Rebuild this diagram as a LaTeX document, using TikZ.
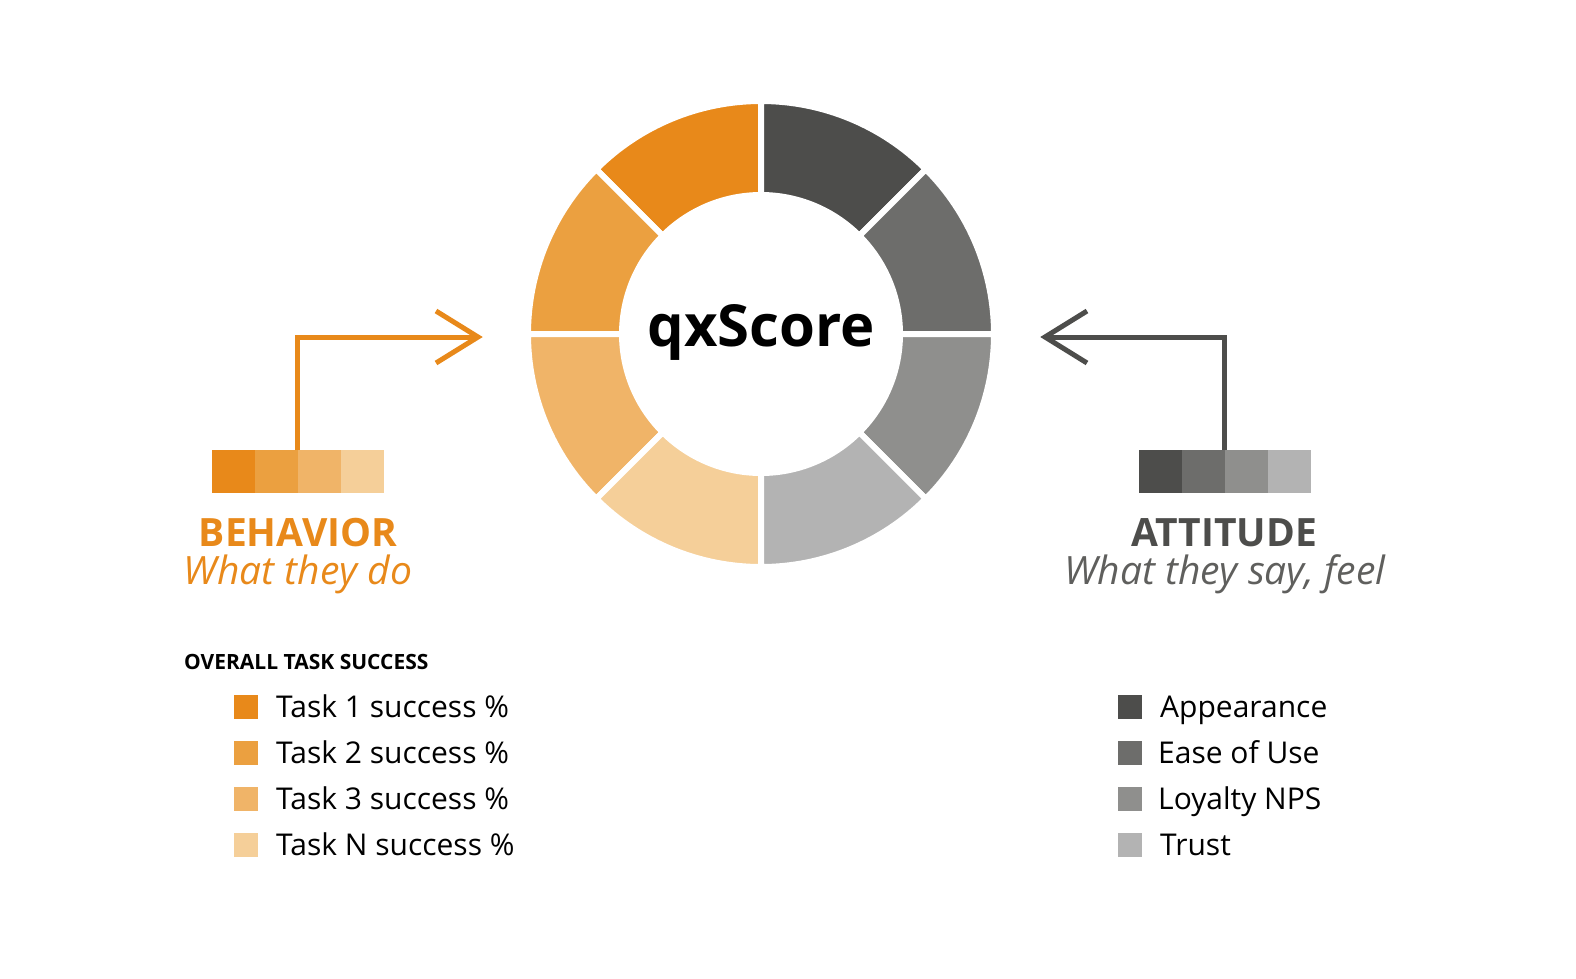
\documentclass[tikz,border=0pt]{standalone}
\usepackage{fontspec}
\setmainfont{Open Sans}
\definecolor{o1}{HTML}{E8891A}\definecolor{o2}{HTML}{EBA040}\definecolor{o3}{HTML}{F0B468}\definecolor{o4}{HTML}{F5CF99}
\definecolor{g1}{HTML}{4D4D4B}\definecolor{g2}{HTML}{6D6D6B}\definecolor{g3}{HTML}{8F8F8D}\definecolor{g4}{HTML}{B3B3B3}
\begin{document}
\begin{tikzpicture}[x=1pt,y=-1pt,
  seg/.style={draw=white,line width=6pt},
  cell/.style={minimum width=43pt,minimum height=43pt,inner sep=0,outer sep=0},
  lsq/.style={minimum size=24pt,inner sep=0},
  ltxt/.style={anchor=base west,font=\fontsize{30}{32}\selectfont,text=black,inner sep=0},
  arr/.style={line width=5pt}]
\useasboundingbox (0,0) rectangle (1576,978);
\coordinate (c) at (761,334);
\foreach \a/\col in {-135/o1,-180/o2,-225/o3,-270/o4,-90/g1,-45/g2,0/g3,45/g4}{
  \fill[\col,seg] (c) ++(\a:233) arc[start angle=\a,end angle=\a+45,radius=233] -- ++(\a+45+180:94) arc[start angle=\a+45,end angle=\a,radius=139] -- cycle;
}
\fill[white] (c) circle (136);
\node[font=\fontsize{58}{60}\selectfont\bfseries] (q) at (761,332) {qxScore};
% bars
\foreach \i/\col in {0/o1,1/o2,2/o3,3/o4}{\node[cell,fill=\col] (b\i) at (233.5+43*\i,471.5) {};}
\foreach \i/\col in {0/g1,1/g2,2/g3,3/g4}{\node[cell,fill=\col] (r\i) at (1160.5+43*\i,471.5) {};}
\coordinate (oa) at (297,337);\coordinate (ot) at (478,337);
\draw[arr,o1] (297,450) -- (oa) -- (ot);
\draw[arr,o1] (436,311) -- (ot) -- (436,363);
\coordinate (ga) at (1224,337);\coordinate (gt) at (1045,337);
\draw[arr,g1] (1224,450) -- (ga) -- (gt);
\draw[arr,g1] (1087,311) -- (gt) -- (1087,363);
\node[font=\fontsize{39}{40}\selectfont\bfseries,text=o1] (beh) at (298,533) {BEHAVIOR};
\node[font=\fontsize{39}{40}\selectfont\itshape,text=o1] (bw) at (298,574) {What they do};
\node[font=\fontsize{39}{40}\selectfont\bfseries,text=g1] (att) at (1224,533) {ATTITUDE};
\node[font=\fontsize{39}{40}\selectfont\itshape,text=g1!90!white] (aw) at (1225,574) {What they say, feel};
\node[anchor=west,inner sep=0,font=\fontsize{21}{22}\selectfont\bfseries] (ots) at (184,662) {OVERALL TASK SUCCESS};
\foreach \i/\col/\t in {0/o1/Task 1 success \%,1/o2/Task 2 success \%,2/o3/Task 3 success \%,3/o4/Task N success \%}{
  \node[lsq,fill=\col] (ls\i) at (246,707+46*\i) {};
  \node[ltxt] (lt\i) at (276,717+46*\i) {\t};}
\foreach \i/\col/\t/\xx in {0/g1/Appearance/1160,1/g2/Ease of Use/1158,2/g3/Loyalty NPS/1158,3/g4/Trust/1160}{
  \node[lsq,fill=\col] (rs\i) at (1130,707+46*\i) {};
  \node[ltxt] (rt\i) at (\xx,717+46*\i) {\t};}
\end{tikzpicture}
\end{document}
